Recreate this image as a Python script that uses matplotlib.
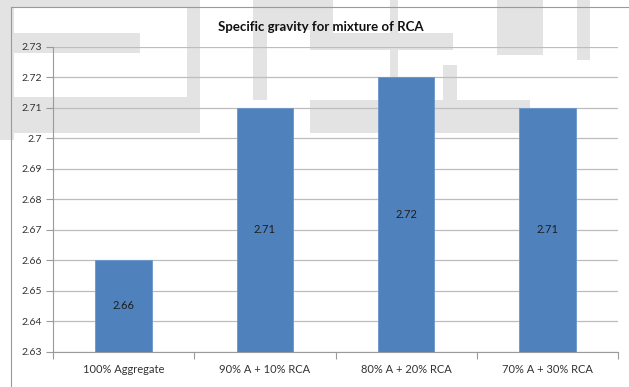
import numpy as np
import matplotlib
matplotlib.use('Agg')
import matplotlib.pyplot as plt
from matplotlib.patches import Rectangle
from matplotlib.ticker import FixedLocator, FuncFormatter

# Chart data
categories = ['100% Aggregate', '90% A + 10% RCA', '80% A + 20% RCA', '70% A + 30% RCA']
specific_gravity = [2.66, 2.71, 2.72, 2.71]
y_ticks = [2.63, 2.64, 2.65, 2.66, 2.67, 2.68, 2.69, 2.70, 2.71, 2.72, 2.73]

W, H = 629, 387
plt.rcParams['font.family'] = ['Lato', 'DejaVu Sans']

fig = plt.figure(figsize=(W / 100, H / 100), dpi=100)
fig.patch.set_facecolor('white')

# Faded watermark shapes behind the chart (pixel coords, origin top-left)
watermark = [
    (0, 0, 14, 140), (14, 33, 126, 20), (0, 97, 200, 36), (0, 0, 200, 8),
    (187, 0, 13, 100), (253, 0, 80, 30), (253, 30, 14, 70),
    (310, 0, 23, 50), (333, 33, 120, 17), (390, 0, 8, 100),
    (443, 65, 14, 35), (310, 100, 220, 33), (497, 0, 46, 55),
    (577, 0, 13, 60),
]
for x, y, w, h in watermark:
    fig.patches.append(Rectangle((x, H - y - h), w, h, transform=None,
                                 facecolor='#e3e3e3', edgecolor='none', zorder=-10))

# Chart border
fig.lines.append(plt.Line2D([11, W], [H - 7, H - 7], transform=None, color='#9a9a9a',
                            lw=0.8, zorder=-5))
fig.lines.append(plt.Line2D([11, 11], [0, H - 7], transform=None, color='#9a9a9a',
                            lw=0.8, zorder=-5))

left, right, top, bottom = 53, 618, 46.7, 351.7
ax = fig.add_axes([left / W, 1 - bottom / H, (right - left) / W, (bottom - top) / H])
ax.patch.set_alpha(0)

x = np.arange(len(categories))
bars = ax.bar(x, specific_gravity, width=0.4, color='#4F81BD', edgecolor='#6a96cc',
              linewidth=0.6, zorder=3)

for xi, v in zip(x, specific_gravity):
    ax.text(xi, (y_ticks[0] + v) / 2, f'{v:.2f}', ha='center', va='center',
            fontsize=8, color='#1e1e1e', zorder=4)

ax.set_xlim(-0.5, len(categories) - 0.5)
ax.set_ylim(y_ticks[0], y_ticks[-1])
ax.yaxis.set_major_locator(FixedLocator(y_ticks))
ax.yaxis.set_major_formatter(FuncFormatter(lambda v, p: f'{round(v, 2):g}'))
ax.grid(axis='y', color='#bdbdbd', linewidth=0.9, zorder=1)

ax.set_xticks(x)
ax.set_xticklabels(categories)
ax.xaxis.set_minor_locator(FixedLocator(np.arange(-0.5, len(categories), 1.0)))
ax.tick_params(axis='x', which='major', length=0, pad=9, labelsize=8, labelcolor='#333333')
ax.tick_params(axis='x', which='minor', length=5, color='#9a9a9a', width=0.8)
ax.tick_params(axis='y', length=5, color='#9a9a9a', width=0.8, pad=3,
               labelsize=7.5, labelcolor='#333333')

for side in ['top', 'right']:
    ax.spines[side].set_visible(False)
for side in ['left', 'bottom']:
    ax.spines[side].set_color('#9a9a9a')
    ax.spines[side].set_linewidth(0.8)

fig.text(321 / W, 1 - 27 / H, 'Specific gravity for mixture of RCA', ha='center',
         va='center', fontsize=9.5, fontweight='bold', color='#111111')

fig.savefig('out.png', dpi=100)
